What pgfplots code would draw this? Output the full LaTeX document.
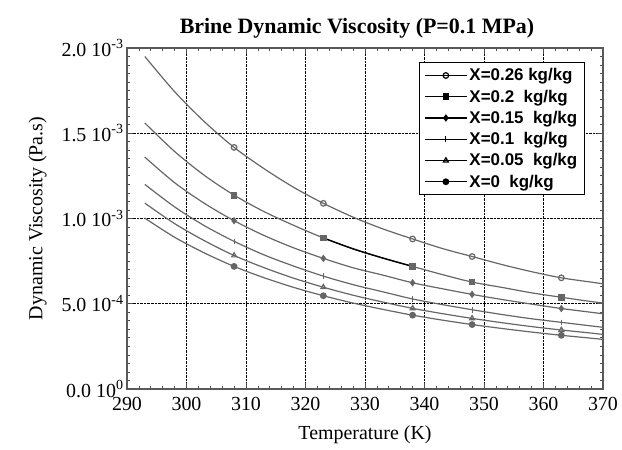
\documentclass[border=0pt]{standalone}
\usepackage{pgfplots}
\pgfplotsset{compat=1.18}
\usepackage{pgfplotstable}
\usepackage{fontspec}
\setmainfont{Liberation Serif}
\setsansfont{Liberation Sans}

\pgfplotstableread{
T x26 x20 x15 x10 x05 x00
293 1.950e-3 1.560e-3 1.360e-3 1.200e-3 1.090e-3 1.002e-3
298 1.744e-3 1.393e-3 1.210e-3 1.068e-3 0.970e-3 0.890e-3
303 1.568e-3 1.253e-3 1.089e-3 0.958e-3 0.870e-3 0.798e-3
308 1.417e-3 1.137e-3 0.987e-3 0.866e-3 0.783e-3 0.719e-3
313 1.293e-3 1.041e-3 0.901e-3 0.787e-3 0.712e-3 0.653e-3
318 1.183e-3 0.960e-3 0.828e-3 0.721e-3 0.650e-3 0.596e-3
323 1.089e-3 0.886e-3 0.766e-3 0.662e-3 0.597e-3 0.547e-3
328 1.008e-3 0.822e-3 0.711e-3 0.612e-3 0.550e-3 0.504e-3
333 0.939e-3 0.768e-3 0.668e-3 0.570e-3 0.510e-3 0.467e-3
338 0.880e-3 0.719e-3 0.623e-3 0.528e-3 0.473e-3 0.433e-3
343 0.824e-3 0.671e-3 0.588e-3 0.495e-3 0.442e-3 0.404e-3
348 0.777e-3 0.627e-3 0.555e-3 0.465e-3 0.414e-3 0.378e-3
353 0.730e-3 0.596e-3 0.525e-3 0.437e-3 0.389e-3 0.355e-3
358 0.688e-3 0.564e-3 0.498e-3 0.412e-3 0.366e-3 0.334e-3
363 0.652e-3 0.538e-3 0.472e-3 0.391e-3 0.346e-3 0.315e-3
368 0.627e-3 0.513e-3 0.450e-3 0.370e-3 0.328e-3 0.298e-3
370 0.617e-3 0.505e-3 0.441e-3 0.362e-3 0.320e-3 0.291e-3
}\data

\begin{document}
\begin{tikzpicture}
\path[use as bounding box] (-127bp,-61bp) rectangle (495bp,389bp);
\begin{axis}[
  at={(0,0)}, anchor=south west,
  scale only axis, width=476bp, height=341bp,
  xmin=290, xmax=370, ymin=0, ymax=0.002,
  xtick={290,300,...,370},
  ytick={0,0.0005,0.001,0.0015,0.002},
  yticklabels={0.0 10\textsuperscript{0},5.0 10\textsuperscript{-4},1.0 10\textsuperscript{-3},1.5 10\textsuperscript{-3},2.0 10\textsuperscript{-3}},
  scaled y ticks=false,
  minor x tick num=4, minor y tick num=9,
  tick align=inside,
  major tick length=6bp, minor tick length=3bp,
  tick style={black!70, line width=0.8pt},
  grid=major,
  major grid style={black, densely dotted, line width=1pt},
  axis line style={black!65, line width=1.2pt},
  title={Brine Dynamic Viscosity (P=0.1 MPa)},
  title style={font=\fontsize{22}{26}\selectfont\bfseries, yshift=0bp, xshift=-8bp},
  xlabel={Temperature (K)},
  ylabel={Dynamic Viscosity (Pa.s)},
  label style={font=\fontsize{20}{24}\selectfont},
  xlabel style={yshift=-8bp},
  ylabel style={yshift=8bp},
  tick label style={font=\fontsize{20}{22}\selectfont},
  xticklabel style={yshift=-5bp},
  /pgf/number format/assume math mode=true,
  /pgf/number format/1000 sep={},
  legend style={at={(0.962,0.959)}, anchor=north east, draw=black, line width=1.3pt,
    fill=white, font=\sffamily\bfseries\fontsize{17}{19}\selectfont, row sep=3.5bp,
    inner xsep=5bp, inner ysep=4bp},
  legend cell align=left,
  legend image code/.code={\draw[mark indices={2},black] plot coordinates {(0bp,0bp)(21bp,0bp)(42bp,0bp)};},
  every axis plot/.append style={black!60, line width=1.2pt, smooth, mark size=2.8pt,
    mark indices={4,7,10,12,15}},
]
\addplot[mark=o, mark options={solid}] table[x=T,y=x26]{\data};
\addlegendentry{X=0.26 kg/kg}
\addplot[mark=square*, mark options={solid}] table[x=T,y=x20]{\data};
\addlegendentry{X=0.2\ \ kg/kg}
\addplot[mark=diamond*, mark options={solid}] table[x=T,y=x15]{\data};
\addlegendentry{X=0.15\ \ kg/kg}
\addplot[mark=|, mark options={solid}] table[x=T,y=x10]{\data};
\addlegendentry{X=0.1\ \ kg/kg}
\addplot[mark=triangle, mark options={solid}] table[x=T,y=x05]{\data};
\addlegendentry{X=0.05\ \ kg/kg}
\addplot[mark=*, mark options={solid}] table[x=T,y=x00]{\data};
\addlegendentry{X=0\ \ kg/kg}
\addplot[black, line width=1.4pt, no marks, forget plot, restrict x to domain=322:339] table[x=T,y=x20]{\data};
\end{axis}
\end{tikzpicture}
\end{document}
